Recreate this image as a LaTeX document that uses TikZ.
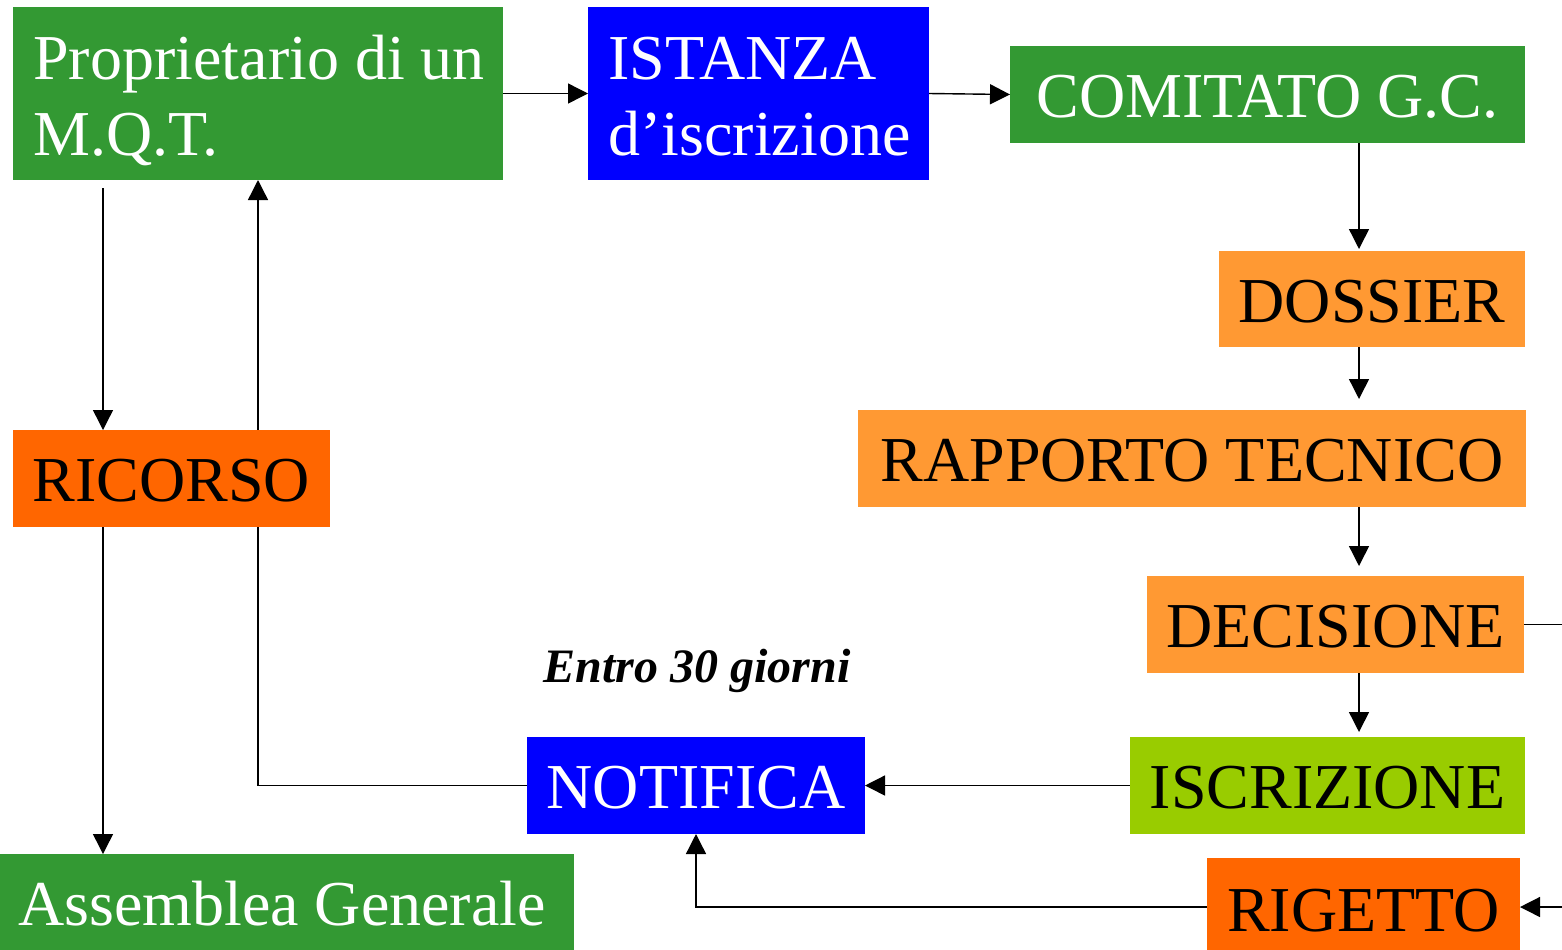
\documentclass[tikz,border=0pt]{standalone}
\usepackage{fontspec}
\setmainfont{Liberation Serif}
\usetikzlibrary{arrows.meta,backgrounds}
\definecolor{cgreen}{HTML}{339933}
\definecolor{cblue}{HTML}{0000FF}
\definecolor{corange}{HTML}{FF9933}
\definecolor{cdark}{HTML}{FF6600}
\definecolor{clime}{HTML}{99CC00}
\begin{document}
\begin{tikzpicture}[x=0.5pt,y=-0.5pt,
  box/.style={rectangle, inner sep=0pt, outer sep=0pt, font=\fontsize{32}{38}\selectfont, text height=23.2pt, text depth=0pt},
  txt/.style={inner sep=0pt, anchor=base west, font=\fontsize{32}{38}\selectfont, text=white},
  arr/.style={line width=0.7pt, -{Triangle[length=10pt,width=10pt]}},
  ln/.style={line width=0.7pt}]
\path[use as bounding box, clip] (0,0) rectangle (1562,949);

% boxes
\node[box, fill=cgreen, minimum width=245pt, minimum height=86.5pt] (prop) at (258,93.5) {};
\node[txt] (prop1) at (33,79) {Proprietario di un};
\node[txt] (prop2) at (33,155) {M.Q.T.};

\node[box, fill=cblue, minimum width=170.5pt, minimum height=86.5pt] (ist) at (758.5,93.5) {};
\node[txt] (ist1) at (608,79) {ISTANZA};
\node[txt] (ist2) at (608,155) {d’iscrizione};

\node[box, fill=cgreen, text=white, minimum width=257.5pt, minimum height=48.5pt] (com) at (1267.5,94.5) {COMITATO G.C.};
\node[box, fill=corange, minimum width=153pt, minimum height=48pt] (dos) at (1372,299) {DOSSIER};
\node[box, fill=corange, minimum width=334pt, minimum height=48.5pt] (rap) at (1192,458.5) {RAPPORTO TECNICO};
\node[box, fill=corange, minimum width=188.5pt, minimum height=48.5pt] (dec) at (1335.5,624.5) {DECISIONE};
\node[box, fill=clime, minimum width=197.5pt, minimum height=48.5pt] (isc) at (1327.5,785.5) {ISCRIZIONE};
\node[box, fill=cdark, minimum width=156.5pt, minimum height=50pt] (rig) at (1363.5,908) {RIGETTO};
\node[box, fill=cdark, minimum width=158.5pt, minimum height=48.5pt] (ric) at (171.5,478.5) {RICORSO};
\node[box, fill=cblue, text=white, minimum width=169pt, minimum height=48.5pt] (not) at (696,785.5) {NOTIFICA};
\node[box, fill=cgreen, text=white, minimum width=288pt, minimum height=50pt] (ass) at (286,904) {};
\node[inner sep=0pt, anchor=base, text=white, font=\fontsize{32}{38}\selectfont] (asstxt) at (282,925) {Assemblea Generale};

\node[inner sep=0pt, anchor=base, font=\fontsize{24}{28}\selectfont\bfseries\itshape] (entro) at (697,682) {Entro 30 giorni};

\coordinate (vx) at (1359,0);
\coordinate (vl) at (103,0);
\coordinate (edgeA) at (1580,624.5);
\coordinate (edgeB) at (1580,907);

\begin{scope}[on background layer]
\draw[arr] (prop.east) -- (ist.west);
\draw[arr] (ist.east) -- (com.west);
\draw[arr, shorten >=1pt] (com.south -| vx) -- (dos.north -| vx);
\draw[arr, shorten >=5.5pt] (dos.south -| vx) -- (rap.north -| vx);
\draw[arr, shorten >=5pt] (rap.south -| vx) -- (dec.north -| vx);
\draw[arr, shorten >=2.5pt] (dec.south -| vx) -- (isc.north -| vx);
\draw[ln] (dec.east) -- (edgeA);
\draw[arr] (edgeB) -- (rig.east |- edgeB);
\draw[arr] (isc.west) -- (not.east);
\draw[arr] (rig.west |- edgeB) -| (not.south);
\draw[arr] (not.west) -| (prop.south);
\draw[arr, shorten <=4pt] (prop.south -| vl) -- (ric.north -| vl);
\draw[arr] (ric.south -| vl) -- (ass.north -| vl);
\end{scope}
\end{tikzpicture}
\end{document}
